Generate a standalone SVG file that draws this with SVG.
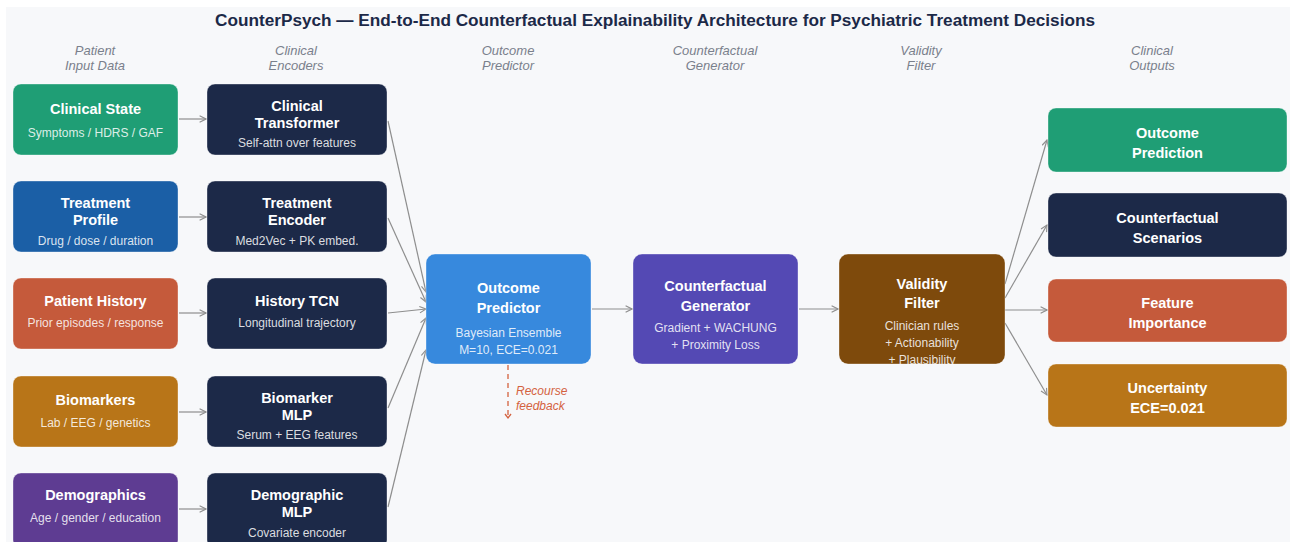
<svg xmlns="http://www.w3.org/2000/svg" width="1290" height="542" viewBox="0 0 1290 542">
  <style>
    text { font-family: "Liberation Sans", Arial, sans-serif; }
    .title { font-size: 17.2px; font-weight: bold; fill: #1c2948; text-anchor: middle; }
    .hdr { font-size: 13px; font-style: italic; fill: #7a808c; text-anchor: middle; }
    .nt { font-size: 14.5px; font-weight: bold; fill: #ffffff; text-anchor: middle; }
    .ns { font-size: 12px; fill: #ffffff; fill-opacity: 0.85; text-anchor: middle; }
    .box { stroke: #ffffff; stroke-opacity: 0.35; stroke-width: 1; }
    .link { fill: none; stroke: #8e8e8e; stroke-width: 1.2; marker-end: url(#arr); }
    .fb { fill: none; stroke: #d4623f; stroke-width: 1.3; stroke-dasharray: 5 4; }
    .fbl { font-size: 12px; font-style: italic; fill: #d4623f; }
  </style>
  <defs>
    <marker id="arr" viewBox="0 0 10 10" refX="9" refY="5" markerWidth="8" markerHeight="8" markerUnits="userSpaceOnUse" orient="auto">
      <path d="M1,1 L9,5 L1,9" fill="none" stroke="#8e8e8e" stroke-width="1.4"/>
    </marker>
    <clipPath id="clipFilter"><rect x="839" y="254" width="166" height="110" rx="9"/></clipPath>
  </defs>

  <rect x="6" y="7" width="1284" height="535" fill="#f7f8fa"/>
  <text class="title" x="655" y="26">CounterPsych — End-to-End Counterfactual Explainability Architecture for Psychiatric Treatment Decisions</text>

  <!-- column headers -->
  <g id="headers">
    <text class="hdr" x="95" y="55">Patient</text><text class="hdr" x="95" y="70">Input Data</text>
    <text class="hdr" x="296" y="55">Clinical</text><text class="hdr" x="296" y="70">Encoders</text>
    <text class="hdr" x="508" y="55">Outcome</text><text class="hdr" x="508" y="70">Predictor</text>
    <text class="hdr" x="715" y="55">Counterfactual</text><text class="hdr" x="715" y="70">Generator</text>
    <text class="hdr" x="921" y="55">Validity</text><text class="hdr" x="921" y="70">Filter</text>
    <text class="hdr" x="1152" y="55">Clinical</text><text class="hdr" x="1152" y="70">Outputs</text>
  </g>

  <!-- connectors -->
  <g id="connectors">
    <line class="link" x1="179" y1="119" x2="206" y2="119"/>
    <line class="link" x1="179" y1="217" x2="206" y2="217"/>
    <line class="link" x1="179" y1="313" x2="206" y2="313"/>
    <line class="link" x1="179" y1="412" x2="206" y2="412"/>
    <line class="link" x1="179" y1="509" x2="206" y2="509"/>

    <line class="link" x1="388" y1="121" x2="426" y2="292"/>
    <line class="link" x1="388" y1="218" x2="426" y2="302"/>
    <line class="link" x1="388" y1="313" x2="426" y2="309"/>
    <line class="link" x1="388" y1="408" x2="426" y2="318"/>
    <line class="link" x1="388" y1="507" x2="426" y2="350"/>

    <line class="link" x1="592" y1="309" x2="632" y2="309"/>
    <line class="link" x1="799" y1="309" x2="838" y2="309"/>

    <line class="link" x1="1005" y1="284" x2="1047" y2="140"/>
    <line class="link" x1="1005" y1="298" x2="1047" y2="225"/>
    <line class="link" x1="1005" y1="310" x2="1047" y2="310"/>
    <line class="link" x1="1005" y1="323" x2="1047" y2="395"/>

    <line class="fb" x1="508" y1="365" x2="508" y2="416"/>
    <path d="M505,414 L508,418 L511,414" fill="none" stroke="#d4623f" stroke-width="1.3"/>
    <text class="fbl" x="516" y="395">Recourse</text>
    <text class="fbl" x="516" y="410">feedback</text>
  </g>

  <!-- patient inputs -->
  <g id="in-clinical">
    <rect class="box" x="13" y="84" width="165" height="71" rx="8" fill="#1f9e75"/>
    <text class="nt" x="95.5" y="114">Clinical State</text>
    <text class="ns" x="95.5" y="137">Symptoms / HDRS / GAF</text>
  </g>
  <g id="in-treatment">
    <rect class="box" x="13" y="181" width="165" height="71" rx="8" fill="#1b5fa6"/>
    <text class="nt" x="95.5" y="208">Treatment</text>
    <text class="nt" x="95.5" y="225">Profile</text>
    <text class="ns" x="95.5" y="245">Drug / dose / duration</text>
  </g>
  <g id="in-history">
    <rect class="box" x="13" y="278" width="165" height="71" rx="8" fill="#c55a3b"/>
    <text class="nt" x="95.5" y="306">Patient History</text>
    <text class="ns" x="95.5" y="327">Prior episodes / response</text>
  </g>
  <g id="in-biomarkers">
    <rect class="box" x="13" y="376" width="165" height="71" rx="8" fill="#b87518"/>
    <text class="nt" x="95.5" y="405">Biomarkers</text>
    <text class="ns" x="95.5" y="427">Lab / EEG / genetics</text>
  </g>
  <g id="in-demographics">
    <rect class="box" x="13" y="473" width="165" height="75" rx="8" fill="#5e3c92"/>
    <text class="nt" x="95.5" y="500">Demographics</text>
    <text class="ns" x="95.5" y="522">Age / gender / education</text>
  </g>

  <!-- encoders -->
  <g id="enc-clinical">
    <rect class="box" x="207" y="84" width="180" height="71" rx="8" fill="#1c2948"/>
    <text class="nt" x="297" y="111">Clinical</text>
    <text class="nt" x="297" y="128">Transformer</text>
    <text class="ns" x="297" y="147">Self-attn over features</text>
  </g>
  <g id="enc-treatment">
    <rect class="box" x="207" y="181" width="180" height="71" rx="8" fill="#1c2948"/>
    <text class="nt" x="297" y="208">Treatment</text>
    <text class="nt" x="297" y="225">Encoder</text>
    <text class="ns" x="297" y="245">Med2Vec + PK embed.</text>
  </g>
  <g id="enc-history">
    <rect class="box" x="207" y="278" width="180" height="71" rx="8" fill="#1c2948"/>
    <text class="nt" x="297" y="306">History TCN</text>
    <text class="ns" x="297" y="327">Longitudinal trajectory</text>
  </g>
  <g id="enc-biomarker">
    <rect class="box" x="207" y="376" width="180" height="71" rx="8" fill="#1c2948"/>
    <text class="nt" x="297" y="403">Biomarker</text>
    <text class="nt" x="297" y="420">MLP</text>
    <text class="ns" x="297" y="439">Serum + EEG features</text>
  </g>
  <g id="enc-demographic">
    <rect class="box" x="207" y="473" width="180" height="75" rx="8" fill="#1c2948"/>
    <text class="nt" x="297" y="500">Demographic</text>
    <text class="nt" x="297" y="517">MLP</text>
    <text class="ns" x="297" y="537">Covariate encoder</text>
  </g>

  <!-- core pipeline -->
  <g id="predictor">
    <rect class="box" x="426" y="254" width="165" height="110" rx="9" fill="#3789dd"/>
    <text class="nt" x="508.5" y="293">Outcome</text>
    <text class="nt" x="508.5" y="313">Predictor</text>
    <text class="ns" x="508.5" y="337">Bayesian Ensemble</text>
    <text class="ns" x="508.5" y="354">M=10, ECE=0.021</text>
  </g>
  <g id="generator">
    <rect class="box" x="633" y="254" width="165" height="110" rx="9" fill="#5449b4"/>
    <text class="nt" x="715.5" y="291">Counterfactual</text>
    <text class="nt" x="715.5" y="311">Generator</text>
    <text class="ns" x="715.5" y="332">Gradient + WACHUNG</text>
    <text class="ns" x="715.5" y="349">+ Proximity Loss</text>
  </g>
  <g id="filter">
    <rect class="box" x="839" y="254" width="166" height="110" rx="9" fill="#7e4a0c"/>
    <g clip-path="url(#clipFilter)">
      <text class="nt" x="922" y="289">Validity</text>
      <text class="nt" x="922" y="308">Filter</text>
      <text class="ns" x="922" y="330">Clinician rules</text>
      <text class="ns" x="922" y="347">+ Actionability</text>
      <text class="ns" x="922" y="364">+ Plausibility</text>
    </g>
  </g>

  <!-- clinical outputs -->
  <g id="out-prediction">
    <rect class="box" x="1048" y="108" width="239" height="64" rx="8" fill="#1f9e75"/>
    <text class="nt" x="1167.5" y="138">Outcome</text>
    <text class="nt" x="1167.5" y="158">Prediction</text>
  </g>
  <g id="out-scenarios">
    <rect class="box" x="1048" y="193" width="239" height="64" rx="8" fill="#1c2948"/>
    <text class="nt" x="1167.5" y="223">Counterfactual</text>
    <text class="nt" x="1167.5" y="243">Scenarios</text>
  </g>
  <g id="out-importance">
    <rect class="box" x="1048" y="279" width="239" height="63" rx="8" fill="#c55a3b"/>
    <text class="nt" x="1167.5" y="308">Feature</text>
    <text class="nt" x="1167.5" y="328">Importance</text>
  </g>
  <g id="out-uncertainty">
    <rect class="box" x="1048" y="364" width="239" height="63" rx="8" fill="#b87518"/>
    <text class="nt" x="1167.5" y="393">Uncertainty</text>
    <text class="nt" x="1167.5" y="413">ECE=0.021</text>
  </g>
</svg>
